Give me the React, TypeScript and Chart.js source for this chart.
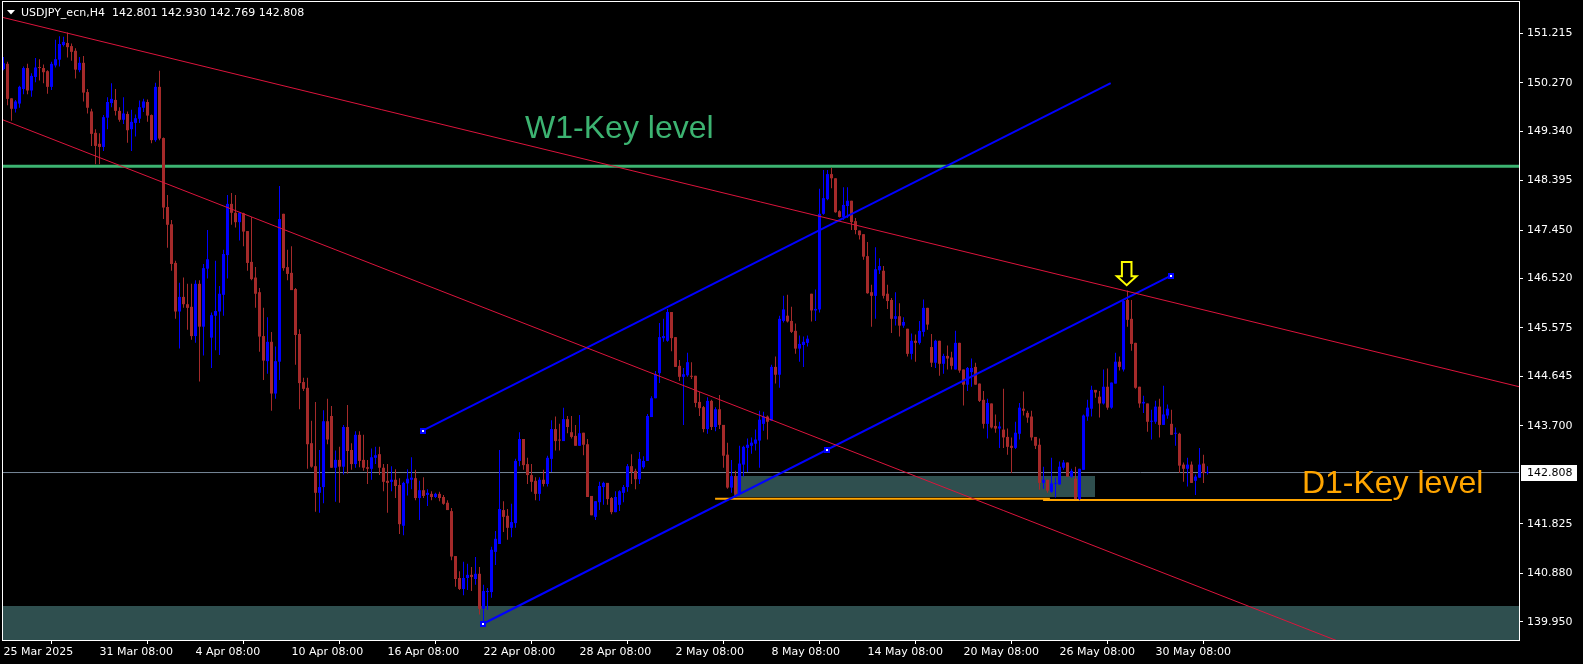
import React, { useEffect, useRef } from 'react';
import { Chart, registerables } from 'chart.js';

Chart.register(...registerables);

// ---- Candle data (USDJPY_ecn, H4), index 0 = 25 Mar 2025 08:00 ----
const OPEN = [
  150.53,150.63,149.97,149.77,149.87,150.15,150.55,150.12,150.38,150.56,
  150.55,150.49,150.19,150.60,150.71,150.99,151.03,150.97,150.88,150.51,
  150.65,150.09,149.72,149.31,149.10,149.04,149.60,149.88,149.94,149.73,
  149.56,149.67,149.38,149.50,149.58,149.79,149.90,149.65,149.17,150.19,
  149.21,147.89,147.56,146.82,145.89,146.17,146.03,145.98,145.42,146.42,
  145.60,146.71,145.39,145.81,145.89,146.21,146.97,147.95,147.78,147.60,
  147.77,147.43,146.84,146.54,146.26,145.42,144.94,145.31,144.32,144.93,
  147.76,146.74,146.63,146.32,145.46,144.54,144.43,143.37,142.93,142.42,
  142.53,143.79,143.89,142.90,143.05,142.92,143.68,143.24,142.97,143.53,
  143.05,142.91,142.88,143.09,143.16,142.90,142.65,142.63,142.67,142.57,
  141.79,142.60,142.67,142.70,142.32,142.47,142.38,142.40,142.34,142.40,
  142.34,142.23,142.07,141.21,140.79,140.58,140.79,140.85,140.77,140.87,
  140.20,140.52,140.52,141.29,141.44,142.09,141.98,141.75,141.84,143.03,
  143.45,142.97,142.76,142.65,142.40,142.67,142.59,143.07,143.64,143.43,
  143.41,143.83,143.58,143.51,143.32,143.57,143.35,142.36,141.96,142.24,
  142.53,142.61,142.32,142.05,142.19,142.42,142.53,142.93,142.84,142.68,
  142.91,143.03,143.87,144.23,144.71,145.38,145.33,145.88,145.40,144.85,
  144.64,144.67,144.66,144.66,144.16,144.06,143.64,144.18,143.68,144.02,
  143.72,143.15,142.52,142.74,142.40,142.96,143.28,143.32,143.36,143.42,
  143.74,143.88,143.80,144.83,144.68,145.71,145.81,145.71,145.52,145.18,
  145.25,145.29,146.23,145.91,145.93,147.76,148.04,148.52,148.44,147.81,
  147.70,147.91,148.01,147.62,147.44,147.37,146.95,146.26,146.19,146.68,
  146.67,146.23,146.11,145.75,145.80,145.62,145.56,145.08,145.33,145.29,
  145.50,145.96,145.21,144.91,145.33,144.89,145.04,145.01,144.78,145.29,
  144.78,144.49,144.73,144.83,144.51,144.20,143.74,144.13,143.70,143.65,
  143.63,143.49,143.32,143.28,143.55,144.03,143.95,143.88,143.49,143.34,
  142.61,142.67,142.44,142.59,142.58,142.90,143.00,142.73,142.69,142.30,
  142.86,143.88,144.03,144.39,144.26,144.13,144.45,144.05,144.51,144.93,
  144.78,146.11,145.75,145.29,144.45,144.13,144.13,143.78,143.78,144.07,
  143.72,143.90,143.74,143.55,143.55,142.96,142.88,142.96,142.65,142.71,
  142.98,142.801,
];
const HIGH = [
  150.76,150.67,149.97,149.94,150.21,150.58,150.63,150.45,150.74,150.72,
  150.62,150.51,150.67,151.09,151.16,151.15,151.23,151.02,150.93,150.76,
  150.78,150.15,149.77,149.38,149.30,149.65,149.99,150.26,150.15,149.80,
  149.99,149.72,149.75,149.66,149.93,149.96,149.95,149.66,150.27,150.50,
  149.22,148.12,147.64,146.86,146.44,146.54,146.42,146.42,146.49,146.49,
  146.80,147.45,145.87,146.86,146.38,147.07,148.12,148.16,148.12,147.78,
  147.78,147.43,147.70,146.74,146.34,145.96,145.78,145.50,145.22,148.29,
  147.76,147.07,147.14,146.34,145.55,144.62,144.62,143.80,144.16,143.24,
  144.00,144.22,144.08,143.23,143.30,143.72,144.10,143.37,143.60,143.60,
  143.53,143.05,143.27,143.30,143.30,142.97,142.97,142.93,142.87,142.70,
  142.63,142.87,143.10,142.86,142.65,142.72,142.49,142.45,142.42,142.44,
  142.38,142.28,142.13,141.21,140.92,141.10,141.06,141.00,141.19,141.00,
  140.66,140.60,141.39,141.69,143.24,142.26,142.11,142.21,143.07,143.58,
  143.45,143.09,142.97,142.72,142.72,142.86,143.13,143.81,143.88,143.74,
  144.05,143.89,143.89,143.72,143.91,143.57,143.45,142.36,142.26,142.63,
  142.63,142.61,142.34,142.45,142.47,142.57,142.97,143.16,142.88,143.20,
  143.12,143.93,144.27,144.75,145.67,145.75,145.94,145.88,145.40,144.96,
  144.81,145.10,144.92,144.66,144.35,144.08,144.25,144.20,144.06,144.29,
  143.72,143.38,143.05,142.84,143.32,143.32,143.46,143.48,143.63,143.99,
  143.97,143.90,144.87,145.03,145.81,146.19,146.21,145.98,145.66,145.43,
  145.41,145.43,146.23,146.31,148.24,148.60,148.60,148.64,148.44,147.83,
  148.27,148.27,148.01,147.68,147.44,147.37,147.22,146.40,147.12,146.91,
  146.76,146.40,146.15,146.26,146.05,145.78,145.56,145.47,145.45,145.71,
  146.12,145.96,145.46,145.35,145.33,145.08,145.24,145.12,145.52,145.29,
  144.78,144.83,144.99,144.91,144.51,144.37,144.22,144.13,143.92,143.78,
  144.41,143.65,143.48,143.78,144.14,144.36,143.99,143.99,143.49,143.46,
  142.92,142.67,143.09,142.71,143.02,143.05,143.00,142.88,142.92,142.88,
  143.92,144.20,144.47,144.39,144.37,144.78,144.80,144.53,145.10,145.03,
  146.13,146.29,146.11,145.29,144.45,144.28,144.13,144.01,144.18,144.22,
  144.47,144.11,144.01,143.67,143.57,143.00,143.09,143.02,142.77,143.28,
  143.15,142.930,
];
const LOW = [
  150.51,149.84,149.54,149.70,149.79,150.05,150.05,150.00,150.28,150.31,
  150.26,150.06,150.13,150.56,150.58,150.96,150.75,150.69,150.35,150.47,
  149.91,149.68,149.06,148.71,148.71,148.96,149.38,149.80,149.64,149.52,
  149.48,149.12,148.96,149.24,149.50,149.71,149.52,149.11,149.14,149.17,
  147.66,147.11,146.67,145.75,145.18,145.96,145.54,145.35,145.29,144.55,
  145.05,146.52,144.81,145.15,145.06,145.81,146.52,147.55,147.50,147.25,
  147.14,146.67,146.49,145.96,145.12,144.58,144.70,143.99,144.22,144.58,
  146.67,146.49,146.30,144.87,144.02,144.37,142.88,142.90,142.06,142.04,
  142.22,143.35,142.90,142.25,142.23,142.77,142.79,142.86,142.90,142.91,
  142.84,142.59,142.67,142.97,142.76,142.45,142.04,142.45,142.32,141.63,
  141.61,142.37,142.49,142.28,141.90,142.32,142.17,142.28,142.32,142.26,
  142.19,142.09,141.13,140.62,140.56,140.46,140.56,140.54,140.66,140.09,
  139.95,140.18,140.41,141.04,141.44,141.67,141.52,141.57,141.75,142.93,
  142.86,142.59,142.44,142.28,142.27,142.54,142.54,142.82,143.23,143.23,
  143.41,143.56,143.46,143.32,143.32,143.14,142.34,141.99,141.90,142.09,
  142.19,142.19,142.01,142.05,142.07,142.24,142.44,142.59,142.49,142.59,
  142.88,143.03,143.87,144.23,144.52,145.31,145.31,145.13,144.83,144.56,
  143.72,144.64,144.60,144.06,143.89,143.58,143.55,143.62,143.60,143.64,
  142.90,142.50,142.42,142.35,142.37,142.73,142.82,143.17,143.23,142.90,
  143.61,143.44,143.80,144.51,144.43,145.68,145.68,145.48,145.08,144.93,
  144.83,145.22,145.70,145.71,145.87,147.74,148.02,148.25,147.78,147.69,
  147.64,147.68,147.45,147.37,147.27,146.88,146.23,145.60,145.75,146.61,
  146.14,145.94,145.48,145.62,145.41,145.58,145.03,144.97,144.93,145.26,
  145.41,145.54,144.83,144.81,144.66,144.70,144.78,144.78,144.78,144.72,
  144.09,144.37,144.45,144.49,144.16,143.65,143.46,143.65,143.57,143.28,
  143.28,143.15,142.80,143.26,143.44,143.90,143.76,143.42,143.26,142.48,
  142.50,142.42,142.42,142.33,142.58,142.86,142.73,142.71,142.30,142.28,
  142.86,143.80,143.88,144.24,143.86,144.11,144.01,144.03,144.51,144.76,
  144.74,145.60,145.14,144.41,144.05,143.95,143.59,143.44,143.74,143.48,
  143.72,143.84,143.53,143.32,142.80,142.63,142.54,142.61,142.38,142.71,
  142.61,142.769,
];
const CLOSE = [
  150.64,149.96,149.77,149.91,150.19,150.55,150.12,150.40,150.56,150.55,
  150.47,150.19,150.63,150.72,151.01,151.05,150.95,150.86,150.52,150.65,
  150.08,149.79,149.29,149.06,149.04,149.61,149.90,149.96,149.73,149.56,
  149.68,149.36,149.52,149.59,149.80,149.91,149.64,149.17,150.19,149.20,
  147.88,147.55,146.80,145.89,146.17,146.03,145.96,145.42,146.42,145.60,
  146.72,146.89,145.82,145.90,146.23,146.99,147.95,147.78,147.60,147.78,
  147.42,146.82,146.51,146.23,145.41,144.95,145.31,144.32,144.94,147.66,
  146.72,146.61,146.30,145.44,144.52,144.41,143.35,142.92,142.42,142.53,
  143.79,143.44,142.90,143.05,142.92,143.68,143.22,142.97,143.53,143.03,
  142.90,142.88,143.10,143.14,142.90,142.63,142.61,142.67,142.55,141.82,
  142.61,142.69,142.71,142.32,142.47,142.36,142.42,142.34,142.40,142.32,
  142.21,142.09,141.20,140.77,140.58,140.79,140.85,140.81,140.87,140.20,
  140.54,140.54,141.33,141.54,142.11,141.96,141.75,141.86,143.03,143.45,
  142.95,142.76,142.63,142.40,142.67,142.59,143.09,143.64,143.41,143.42,
  143.83,143.68,143.49,143.32,143.56,143.34,142.34,141.99,142.26,142.55,
  142.61,142.30,142.05,142.34,142.45,142.53,142.93,142.82,142.68,143.07,
  143.03,143.89,144.23,144.69,145.40,145.42,145.88,145.38,144.83,144.64,
  144.69,144.92,144.64,144.14,144.04,143.64,144.18,143.68,144.02,143.72,
  143.13,142.52,142.74,142.40,142.98,143.30,143.34,143.38,143.44,143.82,
  143.88,143.78,144.83,144.68,145.75,145.93,145.70,145.50,145.18,145.27,
  145.31,145.37,145.91,145.94,147.76,148.06,148.52,148.44,147.79,147.70,
  147.93,148.01,147.60,147.45,147.35,146.94,146.24,146.19,146.70,146.76,
  146.19,146.09,145.75,145.80,145.62,145.69,145.08,145.33,145.29,145.52,
  145.96,145.64,144.91,145.33,144.89,145.04,144.99,144.85,145.29,144.76,
  144.49,144.81,144.81,144.49,144.18,143.74,144.14,143.67,143.65,143.69,
  143.48,143.30,143.28,143.57,144.05,143.99,143.86,143.48,143.32,142.61,
  142.67,142.46,142.60,142.60,142.92,143.00,142.73,142.84,142.30,142.88,
  143.90,144.05,144.39,144.34,144.13,144.45,144.05,144.53,144.93,144.83,
  146.09,145.73,145.27,144.43,144.13,144.16,143.78,143.80,144.07,143.72,
  143.92,144.03,143.53,143.56,142.94,142.88,142.96,142.61,142.73,142.96,
  142.80,142.808,
];

// ---- Axis ticks ----
const X_TICK_INDEX = [0, 24, 48, 72, 96, 120, 144, 168, 192, 216, 240, 264, 288];
const X_TICK_LABELS = [
  '25 Mar 2025', '31 Mar 08:00', '4 Apr 08:00', '10 Apr 08:00', '16 Apr 08:00',
  '22 Apr 08:00', '28 Apr 08:00', '2 May 08:00', '8 May 08:00', '14 May 08:00',
  '20 May 08:00', '26 May 08:00', '30 May 08:00',
];
const Y_TICKS = [139.95, 140.88, 141.825, 143.7, 144.645, 145.575, 146.52, 147.45, 148.395, 149.34, 150.27, 151.215];
const Y_MIN = 139.603;
const Y_MAX = 151.814;
const X_MIN = -0.125;
const X_MAX = 378.875;

const CURRENT_PRICE = 142.808;
const HEADER_TEXT = 'USDJPY_ecn,H4  142.801 142.930 142.769 142.808';

// ---- Drawn objects (candle index, price) ----
const W1_LEVEL = 148.669;
const D1_SEGMENTS = [
  [177.9, 261.6, 142.305],
  [259.9, 347.1, 142.282],
];
const RED_UPPER = [[-0.875, 151.532], [378.875, 144.451]];
const RED_LOWER = [[-0.875, 149.58], [378.875, 138.229]];
const BLUE_UPPER = [[104.8, 143.609], [276.8, 150.26]];
const BLUE_LOWER = [[119.8, 139.909], [291.875, 146.575]];
const MARKERS = [[104.8, 143.609], [119.8, 139.909], [205.8, 143.24], [291.875, 146.575]];
const ZONES = [
  [-3, 382, 140.258, 139.0],
  [182.6, 272.9, 142.742, 142.331],
];
const LABELS: [string, number, number, string][] = [
  ['W1-Key level', 130.4, 149.211, '#3CB371'],
  ['D1-Key level', 324.6, 142.417, '#FFA500'],
];
const ARROW_TIP = [280.8, 146.365];

const BULL = '#0000FF';
const BEAR = '#A52A2A';

export default function App() {
  const ref = useRef<HTMLCanvasElement>(null);

  useEffect(() => {
    const canvas = ref.current;
    if (!canvas) return;
    const colors = OPEN.map((o, i) => (CLOSE[i] >= o ? BULL : BEAR));

    const seg = (pts: number[][], color: string, width: number, order: number) => ({
      type: 'line' as const,
      data: pts.map(([x, y]) => ({ x, y })),
      borderColor: color,
      borderWidth: width,
      pointRadius: 0,
      fill: false,
      tension: 0,
      order,
      clip: 0,
    });

    const overlay = {
      id: 'overlay',
      beforeDatasetsDraw(chart: any) {
        const { ctx, chartArea: a, scales } = chart;
        const x = scales.x, y = scales.y;
        ctx.save();
        ctx.beginPath();
        ctx.rect(a.left, a.top, a.right - a.left, a.bottom - a.top);
        ctx.clip();
        ctx.fillStyle = '#2F4F4F';
        for (const [x0, x1, p0, p1] of ZONES) {
          const l = Math.round(x.getPixelForValue(x0));
          const r = Math.round(x.getPixelForValue(x1));
          const t = Math.round(y.getPixelForValue(p0));
          const b = Math.round(y.getPixelForValue(p1));
          ctx.fillRect(l, t, r - l, b - t);
        }
        ctx.restore();
      },
      afterDatasetsDraw(chart: any) {
        const { ctx, scales } = chart;
        const x = scales.x, y = scales.y;
        ctx.save();
        for (const [k, p] of MARKERS) {
          const px = Math.round(x.getPixelForValue(k));
          const py = Math.round(y.getPixelForValue(p));
          ctx.fillStyle = BULL;
          ctx.fillRect(px - 3, py - 3, 6, 6);
          ctx.fillStyle = '#FFFFFF';
          ctx.fillRect(px - 1, py - 1, 2, 2);
        }
        const tx = x.getPixelForValue(ARROW_TIP[0]);
        const ty = y.getPixelForValue(ARROW_TIP[1]);
        const pts = [[-4.8, -24.7], [4.8, -24.7], [4.8, -10.5], [9.8, -10.5], [0, -1.5], [-9.8, -10.5], [-4.8, -10.5]];
        ctx.beginPath();
        pts.forEach(([dx, dy], i) => (i ? ctx.lineTo(tx + dx, ty + dy) : ctx.moveTo(tx + dx, ty + dy)));
        ctx.closePath();
        ctx.fillStyle = '#000000';
        ctx.fill();
        ctx.strokeStyle = '#FFFF00';
        ctx.lineWidth = 2;
        ctx.lineJoin = 'miter';
        ctx.stroke();
        ctx.font = '32px "Liberation Sans", Arial, sans-serif';
        ctx.textBaseline = 'alphabetic';
        ctx.textAlign = 'left';
        for (const [txt, k, p, c] of LABELS) {
          ctx.fillStyle = c;
          ctx.fillText(txt, x.getPixelForValue(k), y.getPixelForValue(p));
        }
        ctx.restore();
      },
      afterDraw(chart: any) {
        const { ctx, chartArea: a, scales } = chart;
        const y = scales.y;
        ctx.save();
        ctx.strokeStyle = '#FFFFFF';
        ctx.lineWidth = 1;
        ctx.strokeRect(a.left - 0.5, a.top - 0.5, a.right - a.left + 1, a.bottom - a.top + 1);
        const py = Math.round(y.getPixelForValue(CURRENT_PRICE));
        ctx.fillStyle = '#FFFFFF';
        ctx.fillRect(a.right + 2, py - 8, 56, 16);
        ctx.fillStyle = '#000000';
        ctx.font = '11px "DejaVu Sans", sans-serif';
        ctx.textBaseline = 'middle';
        ctx.textAlign = 'left';
        ctx.fillText(CURRENT_PRICE.toFixed(3), a.right + 8, py + 0.5);
        ctx.fillStyle = '#FFFFFF';
        ctx.beginPath();
        ctx.moveTo(7, 10);
        ctx.lineTo(15, 10);
        ctx.lineTo(11, 14.5);
        ctx.closePath();
        ctx.fill();
        ctx.textBaseline = 'alphabetic';
        ctx.fillText(HEADER_TEXT, 21, 15.5);
        ctx.restore();
      },
    };

    const chart = new Chart(canvas, {
      type: 'bar',
      data: {
        datasets: [
          seg([[-3, W1_LEVEL], [382, W1_LEVEL]], '#3CB371', 3, 5) as any,
          seg([[-3, CURRENT_PRICE], [382, CURRENT_PRICE]], '#778899', 1, 5) as any,
          ...D1_SEGMENTS.map(([a, b, p]) => seg([[a, p], [b, p]], '#FFA500', 2, 5) as any),
          {
            type: 'bar',
            data: HIGH.map((h, i) => ({ x: i, y: [LOW[i], h] })),
            backgroundColor: colors,
            barThickness: 1,
            grouped: false,
            minBarLength: 1,
            inflateAmount: 0,
            borderWidth: 0,
            order: 3,
          } as any,
          {
            type: 'bar',
            data: OPEN.map((o, i) => ({ x: i, y: [o, CLOSE[i]] })),
            backgroundColor: colors,
            barThickness: 3,
            grouped: false,
            minBarLength: 1,
            inflateAmount: 0,
            borderWidth: 0,
            order: 2,
          } as any,
          seg(RED_UPPER, '#DC143C', 1, 0) as any,
          seg(RED_LOWER, '#DC143C', 1, 0) as any,
          seg(BLUE_UPPER, BULL, 2, 0) as any,
          seg(BLUE_LOWER, BULL, 2, 0) as any,
        ],
      },
      options: {
        responsive: false,
        animation: false,
        devicePixelRatio: 1,
        events: [],
        layout: { padding: { left: 3, top: 2, right: 0, bottom: 0 } },
        plugins: { legend: { display: false }, tooltip: { enabled: false }, title: { display: false } },
        scales: {
          x: {
            type: 'linear',
            min: X_MIN,
            max: X_MAX,
            offset: false,
            grid: { display: true, drawOnChartArea: false, drawTicks: true, tickLength: 4, color: '#FFFFFF' },
            border: { display: false },
            afterBuildTicks: (s: any) => {
              s.ticks = X_TICK_INDEX.map((v) => ({ value: v }));
            },
            afterFit: (s: any) => {
              s.height = 24;
              s.paddingLeft = 0;
              s.paddingRight = 0;
            },
            ticks: {
              autoSkip: false,
              maxRotation: 0,
              minRotation: 0,
              align: 'start',
              color: '#FFFFFF',
              padding: 2,
              font: { family: '"DejaVu Sans", sans-serif', size: 11 },
              callback: (_v: any, i: number) => X_TICK_LABELS[i],
            },
          } as any,
          y: {
            type: 'linear',
            position: 'right',
            min: Y_MIN,
            max: Y_MAX,
            grid: { display: true, drawOnChartArea: false, drawTicks: true, tickLength: 4, color: '#FFFFFF' },
            border: { display: false },
            afterBuildTicks: (s: any) => {
              s.ticks = Y_TICKS.map((v) => ({ value: v }));
            },
            afterFit: (s: any) => {
              s.width = 64;
              s.paddingTop = 0;
              s.paddingBottom = 0;
            },
            ticks: {
              color: '#FFFFFF',
              padding: 4,
              font: { family: '"DejaVu Sans", sans-serif', size: 11 },
              callback: (v: any) => Number(v).toFixed(3),
            },
          } as any,
        },
      },
      plugins: [overlay],
    });

    return () => chart.destroy();
  }, []);

  return (
    <div style={{ position: 'fixed', left: 0, top: 0, width: 1583, height: 664, background: '#000000' }}>
      <canvas ref={ref} width={1583} height={664} style={{ display: 'block', width: 1583, height: 664 }} />
    </div>
  );
}
